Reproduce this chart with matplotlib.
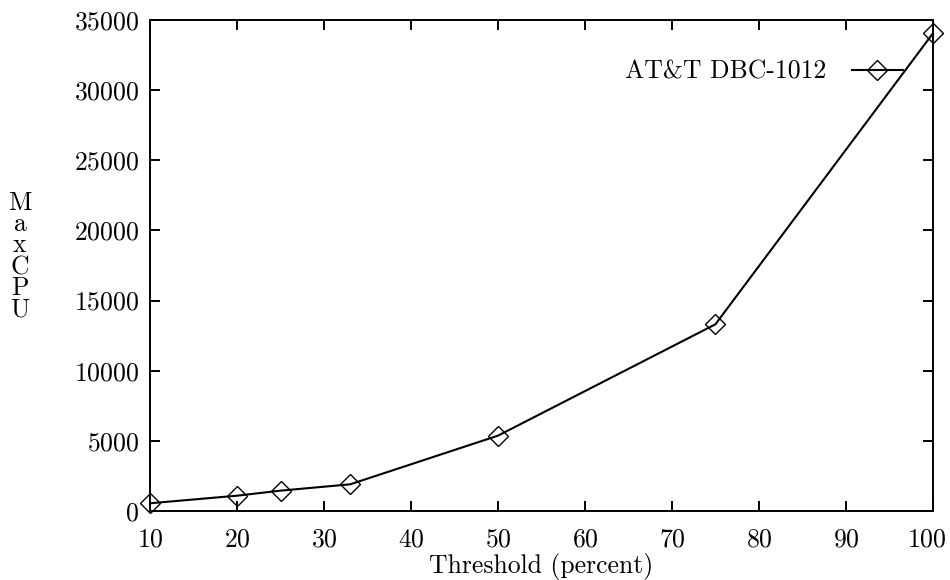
import matplotlib
matplotlib.use('Agg')
import matplotlib.pyplot as plt
import matplotlib.transforms as mtransforms

plt.rcParams.update({
    'font.family': 'cmr10',
    'mathtext.fontset': 'cm',
    'axes.formatter.use_mathtext': True,
    'font.size': 18.5,
    'xtick.direction': 'in',
    'ytick.direction': 'in',
    'xtick.top': True,
    'ytick.right': True,
    'xtick.major.size': 7,
    'ytick.major.size': 7,
    'xtick.major.width': 1.4,
    'ytick.major.width': 1.4,
    'axes.linewidth': 1.4,
})

# data
threshold = [10, 20, 25, 33, 50, 75, 100]
max_cpu = [550, 1090, 1450, 1900, 5370, 13310, 34050]
series_name = 'AT&T DBC-1012'

xticks = list(range(10, 101, 10))
yticks = list(range(0, 35001, 5000))

fig = plt.figure(figsize=(9.5, 5.8), dpi=100)
ax = fig.add_axes([0.158, 0.119, 0.824, 0.8465])

ax.plot(threshold, max_cpu, color='black', linewidth=1.5,
        marker='D', markersize=10, markerfacecolor='none',
        markeredgecolor='black', markeredgewidth=1.0,
        label=series_name, clip_on=False, zorder=5)

ax.set_xlim(10, 100)
ax.set_ylim(0, 35000)
ax.set_xticks(xticks)
ax.set_yticks(yticks)
ax.tick_params(axis='x', pad=12)
ax.tick_params(axis='y', pad=8)

# nudge the last x label so it stays inside the canvas
last = ax.get_xticklabels()[-1]
last.set_transform(last.get_transform() +
                   mtransforms.ScaledTranslation(-6 / 100, 0, fig.dpi_scale_trans))

ax.set_xlabel('Threshold (percent)', labelpad=1)
# gnuplot-style stacked y label, split in two words
fig.text(0.021, 0.614, 'M\na\nx', ha='center', va='center', linespacing=0.85)
fig.text(0.021, 0.503, 'C\nP\nU', ha='center', va='center', linespacing=0.85)

leg = ax.legend(loc='upper right', bbox_to_anchor=(0.985, 0.955),
                frameon=False, markerfirst=False, handlelength=2.0,
                handletextpad=1.0, borderpad=0.2)

fig.savefig('out.png', dpi=100)
